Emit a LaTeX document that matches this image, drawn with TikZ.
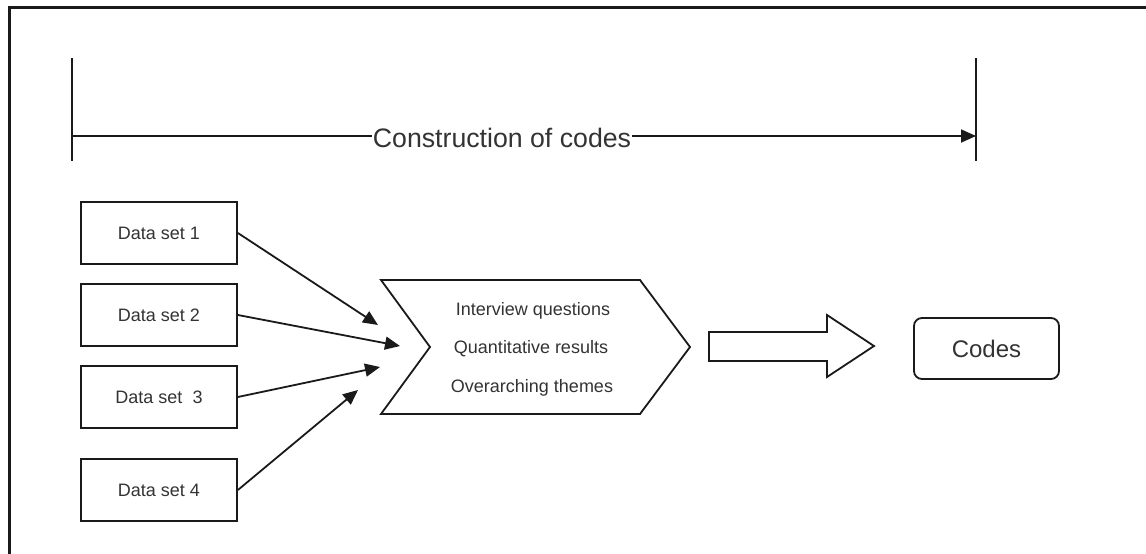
\documentclass[tikz,border=0pt]{standalone}
\usepackage{fontspec}
\setmainfont{Liberation Sans}
\usetikzlibrary{arrows.meta}
\definecolor{ink}{HTML}{1A1A1A}
\definecolor{txt}{HTML}{333333}
\tikzset{
  line/.style={draw=ink, line width=1.8pt},
  tip/.style={-{Triangle[length=15pt,width=13pt]}},
  databox/.style={line, rectangle, minimum width=156pt, minimum height=62pt,
    inner sep=0pt, font=\fontsize{18}{18}\selectfont, text=txt},
  itemtext/.style={font=\fontsize{18}{18}\selectfont, text=txt, inner sep=0pt},
  codesbox/.style={line, rectangle, rounded corners=8pt, minimum width=145pt,
    minimum height=61pt, inner sep=0pt, font=\fontsize{24}{24}\selectfont, text=txt},
  spanlabel/.style={font=\fontsize{26.7}{26.7}\selectfont, text=txt, inner sep=1pt}
}
\begin{document}
\begin{tikzpicture}[x=1pt, y=-1pt]
\useasboundingbox (0,0) rectangle (1146,554);
\fill[white] (0,0) rectangle (1146,554);

% outer frame (left and top edges)
\draw[ink, line width=3pt] (9.5,554) -- (9.5,7.5) -- (1146,7.5);

% span marker for the construction of codes
\coordinate (lt) at (72,58);
\coordinate (lb) at (72,161);
\coordinate (lm) at (72,136);
\coordinate (rt) at (976,58);
\coordinate (rb) at (976,161);
\coordinate (rm) at (976,136);
\draw[line] (lt) -- (lb);
\draw[line] (rt) -- (rb);
\node[spanlabel] (span) at (502,138) {Construction of codes};
\draw[line] (lm) -- (span.west |- lm);
\draw[line, tip] (span.east |- rm) -- (rm);

% data sets
\node[databox] (d1) at (159,233) {Data set 1};
\node[databox] (d2) at (159,315) {Data set 2};
\node[databox] (d3) at (159,397) {Data set~ 3};
\node[databox] (d4) at (159,490) {Data set 4};

% chevron holding the three sources
\coordinate (ctl) at (381,280);
\coordinate (ctr) at (640,280);
\coordinate (ctip) at (690,347);
\coordinate (cbr) at (640,414);
\coordinate (cbl) at (381,414);
\coordinate (cnotch) at (430,347);
\draw[line, line join=miter] (ctl) -- (ctr) -- (ctip) -- (cbr) -- (cbl) -- (cnotch) -- cycle;
\node[itemtext] (q1) at (533,311) {Interview questions};
\node[itemtext] (q2) at (531,349) {Quantitative results};
\node[itemtext] (q3) at (532,388) {Overarching themes};

% arrows from the data sets into the chevron
\coordinate (in1) at (378,325);
\coordinate (in2) at (400,346);
\coordinate (in3) at (380,367);
\coordinate (in4) at (358,390);
\draw[line, tip] (d1.east) -- (in1);
\draw[line, tip] (d2.east) -- (in2);
\draw[line, tip] (d3.east) -- (in3);
\draw[line, tip] (d4.east) -- (in4);

% block arrow towards the codes
\draw[line, line join=miter] (709,332) -- (827,332) -- (827,315) -- (874,346)
  -- (827,377) -- (827,361) -- (709,361) -- cycle;

% result
\node[codesbox] (codes) at (986.5,348.5) {Codes};
\end{tikzpicture}
\end{document}
